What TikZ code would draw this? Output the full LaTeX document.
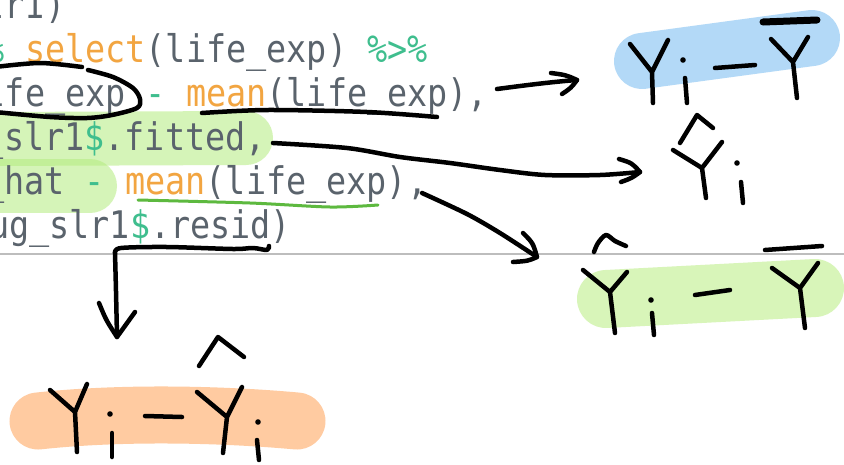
\documentclass[tikz,border=0pt]{standalone}
\usepackage{fontspec}
\newfontfamily\codefont{DejaVu Sans Mono}[FakeStretch=0.88]
\definecolor{codegray}{HTML}{5A636C}
\definecolor{codeorange}{HTML}{F2A541}
\definecolor{codegreen}{HTML}{3FBE8E}
\definecolor{hlgreen}{HTML}{B4EC7E}
\definecolor{hlgreenb}{HTML}{D8F5B9}
\definecolor{hlblue}{HTML}{B3D9F7}
\definecolor{hlorange}{HTML}{FFCBA1}
\definecolor{ulgreen}{HTML}{5DB93F}
\definecolor{sepgray}{HTML}{BDBDBD}
\tikzset{
  code/.style={anchor=base west, inner sep=0pt, outer sep=0pt, text=codegray,
    font=\codefont\fontsize{38}{38}\selectfont},
  pen/.style={line width=4.5pt, line cap=round, line join=round, draw=black},
  hl/.style={line cap=round, line join=round},
  dotmark/.style={fill=black, draw=none},
}
\begin{document}
\begin{tikzpicture}[x=1pt,y=-1pt]
\useasboundingbox (0,0) rectangle (844,464);
\clip (0,0) rectangle (844,464);
\fill[white] (0,0) rectangle (844,464);

% highlighter blobs
\draw[hl, draw=hlgreen, draw opacity=0.55, line width=54pt] (-10,139) -- (246,138);
\draw[hl, draw=hlgreen, draw opacity=0.55, line width=54pt] (-10,186) -- (90,186);
\draw[hl, draw=hlblue, line width=56pt] (642,61) -- (812,38);
\draw[hl, draw=hlgreenb, line width=58pt] (606,299) -- (815,288);
\draw[hl, draw=hlorange, line width=57pt] (38,421) .. controls (120,412) and (220,414) .. (297,421);

% separator
\draw[sepgray, line width=1.2pt] (0,254) -- (844,254);

% code lines
\node[code] (l1) at (-35.5,18) {slr1)};
\node[code] (l2) at (-55.5,62) {\textcolor{codegreen}{\%>\%} \textcolor{codeorange}{select}(life\_exp) \textcolor{codegreen}{\%>\%}};
\node[code] (l3) at (-35.3,106) {life\_exp \textcolor{codegreen}{-} \textcolor{codeorange}{mean}(life\_exp),};
\node[code] (l4) at (-76.5,150) {aug\_slr1\textcolor{codegreen}{\$}.fitted,};
\node[code] (l5) at (-35.8,194) {y\_hat \textcolor{codegreen}{-} \textcolor{codeorange}{mean}(life\_exp),};
\node[code] (l6) at (-31,238) {aug\_slr1\textcolor{codegreen}{\$}.resid)};

% green underline
\draw[line width=3pt, line cap=round, ulgreen] plot[smooth] coordinates {(138,200) (250,203) (330,207) (378,205)};

% loop round life_exp
\draw[pen] plot[smooth] coordinates {(-5,67) (40,63) (82,67)};
\draw[pen] plot[smooth] coordinates {(88,70) (113,77) (133,88) (140,99) (137,108) (112,115) (87,118) (50,117) (-5,112)};
% underline of mean(life_exp) line 3
\draw[pen] plot[smooth] coordinates {(202,113) (267,110) (367,112) (437,117)};
% bracket under $.resid)
\draw[pen] plot[smooth] coordinates {(115,253) (121,248) (167,247) (233,249) (253,248) (267,250) (269,246)};

% connector coordinates
\coordinate (a1s) at (497,89);  \coordinate (a1e) at (577,80);
\coordinate (a2s) at (273,143); \coordinate (a2e) at (640,172);
\coordinate (a3s) at (422,193); \coordinate (a3e) at (537,257);
\coordinate (a4s) at (115,253); \coordinate (a4e) at (117,337);

% arrow 1
\draw[pen] (a1s) .. controls (520,86) and (550,82) .. (a1e);
\draw[pen] (551,73) .. controls (566,75) .. (a1e) .. controls (571,88) .. (562,94);
% arrow 2
\draw[pen] plot[smooth] coordinates {(a2s) (347,148) (400,157) (450,163) (500,170) (545,175) (600,175) (a2e)};
\draw[pen] (619,159) .. controls (632,163) .. (a2e) .. controls (632,178) .. (621,182);
% arrow 3
\draw[pen] plot[smooth] coordinates {(a3s) (467,214) (500,233) (a3e)};
\draw[pen] (523,233) .. controls (533,243) .. (a3e) .. controls (528,261) .. (513,262);
% arrow 4 (down)
\draw[pen] (a4s) .. controls (116,290) .. (a4e);
\draw[pen] (99,303) .. controls (106,320) .. (a4e) -- (135,312);

% blue: Y_i - Ybar
\draw[pen] (630,44) -- (652,72) -- (668,40) (652,72) -- (653,103);
\fill[dotmark] (683,60) circle (2.8pt);
\draw[pen] (685,78) -- (687,103);
\draw[pen] (715,68) -- (755,65);
\draw[pen] (771,39) -- (793,62) -- (808,37) (793,62) -- (797,98);
\draw[pen, line width=7pt] (763,22) -- (817,20);

% middle: Yhat_i
\draw[pen] (680,143) -- (697,115) -- (713,128);
\draw[pen] (673,150) -- (702,168) -- (722,142) (702,168) -- (706,198);
\fill[dotmark] (737,163) circle (2.8pt);
\draw[pen] (741,182) -- (743,203);

% green: Yhat_i - Ybar
\draw[pen] plot[smooth] coordinates {(594,252) (598,243) (606,235) (615,241) (626,246)};
\draw[pen] (583,270) -- (610,292) -- (627,272) (610,292) -- (615,333);
\fill[dotmark] (651,300) circle (2.8pt);
\draw[pen] (652,313) -- (654,335);
\draw[pen] (695,295) -- (730,290);
\draw[pen] (765,250) -- (822,246);
\draw[pen] (772,268) -- (800,288) -- (818,263) (800,288) -- (805,328);

% orange: Y_i - Yhat_i
\draw[pen] (50,390) -- (75,412) -- (87,384) (75,412) -- (77,452);
\fill[dotmark] (110,414) circle (2.8pt);
\draw[pen] (112,433) -- (112,457);
\draw[pen] (145,416) -- (182,417);
\draw[pen] (199,366) -- (218,337) -- (244,357);
\draw[pen] (197,392) -- (227,417) -- (242,387) (227,417) -- (223,453);
\fill[dotmark] (258,422) circle (2.8pt);
\draw[pen] (257,440) -- (259,460);
\end{tikzpicture}
\end{document}
